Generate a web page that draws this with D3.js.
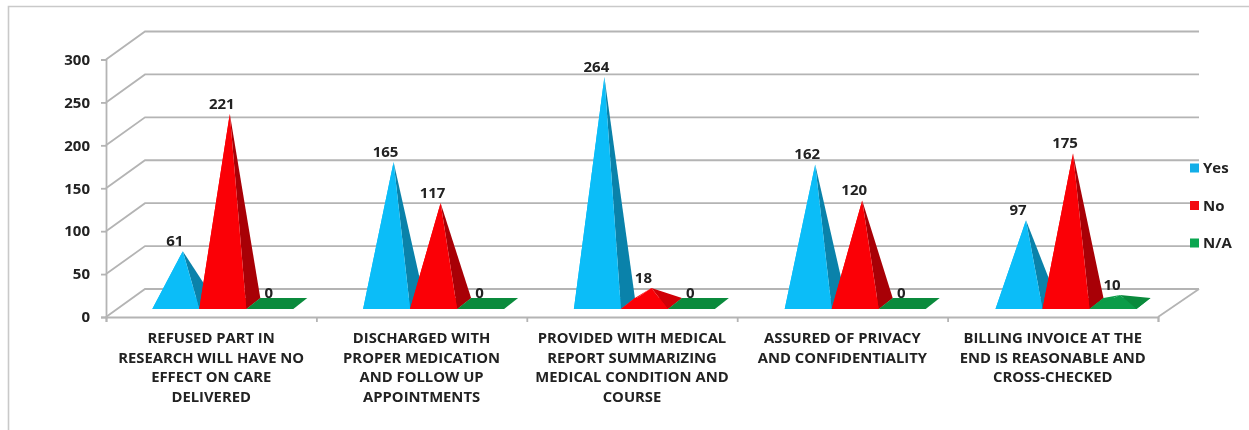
<!DOCTYPE html>
<html><head><meta charset="utf-8">
<style>html,body{margin:0;padding:0;background:#fff;overflow:hidden}svg{display:block;filter:blur(.55px)}</style>
<script src="https://cdn.jsdelivr.net/npm/d3@7"></script></head>
<body><svg id="c" width="1249" height="430"></svg>
<script>
const categories = [
  ["REFUSED PART IN","RESEARCH WILL HAVE NO","EFFECT ON CARE","DELIVERED"],
  ["DISCHARGED WITH","PROPER MEDICATION","AND FOLLOW UP","APPOINTMENTS"],
  ["PROVIDED WITH MEDICAL","REPORT SUMMARIZING","MEDICAL CONDITION AND","COURSE"],
  ["ASSURED OF PRIVACY","AND CONFIDENTIALITY"],
  ["BILLING INVOICE AT THE","END IS REASONABLE AND","CROSS-CHECKED"]
];
const seriesNames = ["Yes","No","N/A"];
const yes = [61,165,264,162,97];
const no = [221,117,18,120,175];
const na = [0,0,0,0,10];
const yTicks = [0,50,100,150,200,250,300];
const seriesValues = [yes,no,na];
const faceColors = [
  {front:"#0bbdf8",side:"#0a82aa",lowFront:"#0bbdf8",lowSide:"#0a82aa",legend:"#12aee8"},
  {front:"#fb0006",side:"#a80006",lowFront:"#fb0006",lowSide:"#d00006",legend:"#f20a10"},
  {front:"#0a8a3c",side:"#0a7a34",lowFront:"#0b9c48",lowSide:"#0a8a3c",legend:"#0aa650"}
];

const svg = d3.select("#c");
const gridC = "#b4b4b4", txt = "#222";
const font = "'Open Sans',sans-serif";
const x0 = 106, x1 = 1158, y0 = 317, y300 = 59.5;
const wallDx = 39, wallDy = -28;
const baseDx = 14, baseDy = -11, baseLift = 8;

const xCat = d3.scaleBand().domain(d3.range(categories.length)).range([x0,x1]);
const xBar = d3.scaleBand().domain(d3.range(categories.length)).range([x0+46.3,x1+46.3+2]);
const xSer = d3.scaleBand().domain(d3.range(seriesNames.length)).range([0,47*3]);
const y = d3.scaleLinear().domain([0,300]).range([y0,y300]);

// chart frame
svg.append("path").attr("d","M8.5 430V6.5H1249").attr("fill","none").attr("stroke","#c9c9c9").attr("stroke-width",1.6);

// back wall and floor lines
const grid = svg.append("g").attr("fill","none").attr("stroke",gridC).attr("stroke-width",1.8);
yTicks.forEach(t=>{
  grid.append("path").attr("d",`M${x0} ${y(t)}L${x0+wallDx} ${y(t)+wallDy}H${x1+41}`);
});
grid.append("path").attr("d",`M${x1} ${y0}L${x1+41} ${y0+wallDy}`);

// axes
const yAxis = svg.append("g").attr("transform",`translate(${x0},0)`).call(d3.axisLeft(y).tickValues(yTicks).tickSize(5).tickPadding(11));
const xAxis = svg.append("g").attr("transform",`translate(0,${y0})`)
  .call(d3.axisBottom(d3.scaleLinear().domain([0,5]).range([x0,x1])).ticks(5).tickSize(5).tickFormat(""));
[yAxis,xAxis].forEach(a=>{a.selectAll("path,line").attr("stroke",gridC).attr("stroke-width",1.8);});
yAxis.selectAll("text").attr("font-family",font).attr("font-weight","bold").attr("font-size",15).attr("fill",txt);

// pyramids
const P = (a,b)=>a+","+b;
categories.forEach((cat,i)=>{
  seriesValues.forEach((vals,s)=>{
    const v = vals[i], c = faceColors[s];
    const low = v>0 && v<30;
    const fr = low?c.lowFront:c.front, sd = low?c.lowSide:c.side;
    const L = xBar(i)+xSer(s), W = xSer.bandwidth();
    const by = y0-baseLift, R = L+W;
    const ax = L+W/2+baseDx/2, ay = by+baseDy/2-(y0-y(v));
    const g = svg.append("g");
    g.append("polygon").attr("points",[P(L,by),P(R,by),P(R+baseDx,by+baseDy),P(L+baseDx,by+baseDy)].join(" "))
      .attr("fill",fr);
    if(v>0){
      g.append("polygon").attr("points",[P(L,by),P(L+baseDx,by+baseDy),P(ax,ay)].join(" ")).attr("fill",fr);
      g.append("polygon").attr("points",[P(R,by),P(R+baseDx,by+baseDy),P(ax,ay)].join(" ")).attr("fill",sd);
      g.append("polygon").attr("points",[P(L,by),P(R,by),P(ax,ay)].join(" ")).attr("fill",fr);
    }
    g.append("text").attr("x",ax-8).attr("y",ay-10.5).attr("dy","0.35em").attr("text-anchor","middle")
      .attr("font-family",font).attr("font-weight","bold").attr("font-size",15).attr("fill",txt).text(v);
  });
});

// category labels
categories.forEach((lines,i)=>{
  const t = svg.append("text").attr("text-anchor","middle").attr("font-family",font)
    .attr("font-weight","bold").attr("font-size",14.8).attr("fill",txt);
  lines.forEach((l,k)=>{
    t.append("tspan").attr("x",xCat(i)+xCat.bandwidth()/2).attr("y",338+k*19.6).attr("dy","0.35em").text(l);
  });
});

// legend
const legY = d3.scalePoint().domain(seriesNames).range([168,243]);
seriesNames.forEach((n,s)=>{
  svg.append("rect").attr("x",1190).attr("y",legY(n)-4.5).attr("width",9).attr("height",9).attr("fill",faceColors[s].legend);
  svg.append("text").attr("x",1203).attr("y",legY(n)).attr("dy","0.35em").attr("font-family",font)
    .attr("font-weight","bold").attr("font-size",15).attr("fill",txt).text(n);
});
</script></body></html>
